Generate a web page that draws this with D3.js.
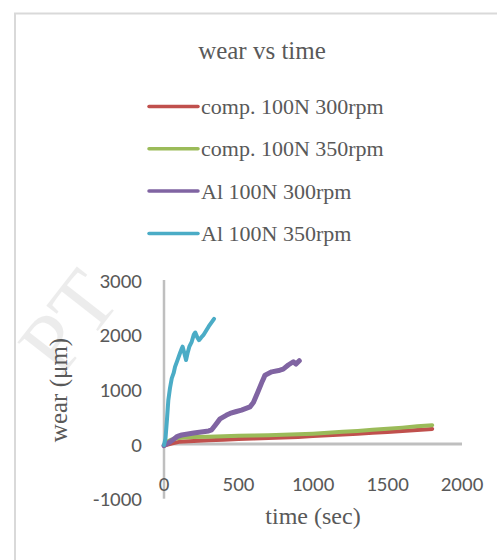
<html>
<head>
	<title>wear vs time</title>
	<meta charset="utf-8">
	<script src="https://d3js.org/d3.v7.min.js"></script>
	<style>
		body { margin: 0; background: #fff; }
	</style>
</head>
<body>
	<svg id="chart" width="497" height="560"></svg>

	<script type="text/javascript">
		// series names + colours (legend order)
		var seriesNames = ["comp. 100N 300rpm", "comp. 100N 350rpm", "Al 100N 300rpm", "Al 100N 350rpm"]
		var seriesColors = ["#c0504d", "#9bbb59", "#8064a2", "#4bacc6"]

		// [time (sec), wear (um)]
		var comp300 = [[0,-30],[50,10],[100,40],[200,55],[300,70],[400,80],[500,90],[600,100],[700,110],[800,120],
		               [900,130],[1000,145],[1100,160],[1200,175],[1300,190],[1400,205],[1500,220],[1600,240],[1700,255],[1800,275]]
		var comp350 = [[0,-20],[20,40],[50,80],[80,100],[130,120],[200,130],[300,135],[400,140],[500,150],[600,155],
		               [700,160],[800,170],[900,178],[1000,190],[1100,205],[1200,225],[1300,240],[1400,260],[1500,280],
		               [1600,300],[1700,325],[1800,345]]
		var al300 = [[0,-30],[30,20],[60,80],[90,140],[119,165],[150,180],[200,200],[250,220],[300,240],[320,260],
		             [345,350],[376,460],[420,530],[443,560],[480,590],[520,620],[577,680],[600,760],[630,950],[660,1150],
		             [678,1260],[723,1320],[778,1350],[800,1370],[834,1445],[868,1505],[886,1463],[908,1524]]
		var al350 = [[0,-20],[10,100],[20,450],[29,800],[40,1020],[52,1200],[65,1300],[74,1410],[90,1530],[107,1660],
		             [118,1740],[125,1780],[135,1680],[148,1536],[158,1660],[170,1780],[186,1870],[200,2000],[210,2040],
		             [222,1960],[235,1900],[250,1950],[264,1990],[300,2150],[336,2290]]
		var allSeries = [comp300, comp350, al300, al350]

		var xTicks = [0, 500, 1000, 1500, 2000]
		var yTicks = [-1000, 0, 1000, 2000, 3000]

		var svg = d3.select("#chart")

		// faint watermark left over from the source page
		svg.append("text")
			.attr("transform", "translate(122,300) rotate(-52)")
			.attr("text-anchor", "end")
			.attr("font-family", "Liberation Serif, serif")
			.attr("font-size", 86)
			.attr("fill", "#000")
			.attr("opacity", 0.07)
			.text("PT")

		// chart area border
		svg.append("rect")
			.attr("x", 15).attr("y", 13.5)
			.attr("width", 520).attr("height", 580)
			.attr("fill", "none")
			.attr("stroke", "#d9d9d9")
			.attr("stroke-width", 2)

		var x = d3.scaleLinear().domain([0, 2000]).range([164, 462])
		var y = d3.scaleLinear().domain([-1000, 3000]).range([498.7, 280])

		// title
		svg.append("text")
			.attr("x", 262).attr("y", 59)
			.attr("text-anchor", "middle")
			.attr("font-family", "Liberation Serif, serif")
			.attr("font-size", 25)
			.attr("fill", "#595959")
			.text("wear vs time")

		// legend
		var legend = svg.selectAll(".legend")
			.data(seriesNames)
			.enter()
			.append("g")
			.attr("transform", (d, i) => "translate(0," + (106.5 + i * 42.3) + ")")
		legend.append("line")
			.attr("x1", 149).attr("x2", 198)
			.attr("stroke", (d, i) => seriesColors[i])
			.attr("stroke-width", 3.5)
			.attr("stroke-linecap", "round")
		legend.append("text")
			.attr("x", 201).attr("y", 7.5)
			.attr("font-family", "Liberation Serif, serif")
			.attr("font-size", 22)
			.attr("fill", "#595959")
			.text(d => d)

		// axis lines (Excel style, no ticks)
		svg.append("line")
			.attr("x1", x(0)).attr("x2", x(0))
			.attr("y1", y(3000)).attr("y2", y(-1000))
			.attr("stroke", "#bfbfbf").attr("stroke-width", 2.5)
		svg.append("line")
			.attr("x1", x(0)).attr("x2", x(2000))
			.attr("y1", y(0)).attr("y2", y(0))
			.attr("stroke", "#bfbfbf").attr("stroke-width", 3)

		// tick labels
		svg.selectAll(".ylab")
			.data(yTicks)
			.enter()
			.append("text")
			.attr("x", 142).attr("y", d => y(d) + 7.5)
			.attr("text-anchor", "end")
			.attr("font-family", "Carlito, Lato, sans-serif")
			.attr("font-size", 21)
			.attr("fill", "#595959")
			.text(d => d)
		svg.selectAll(".xlab")
			.data(xTicks)
			.enter()
			.append("text")
			.attr("x", d => x(d)).attr("y", 490.5)
			.attr("text-anchor", "middle")
			.attr("font-family", "Carlito, Lato, sans-serif")
			.attr("font-size", 21)
			.attr("fill", "#595959")
			.text(d => d)

		// axis titles
		svg.append("text")
			.attr("x", 313).attr("y", 524)
			.attr("text-anchor", "middle")
			.attr("font-family", "Liberation Serif, serif")
			.attr("font-size", 24)
			.attr("fill", "#595959")
			.text("time (sec)")
		svg.append("text")
			.attr("transform", "translate(67,390) rotate(-90)")
			.attr("text-anchor", "middle")
			.attr("font-family", "Liberation Serif, serif")
			.attr("font-size", 25)
			.attr("fill", "#595959")
			.text("wear (\u03bcm)")

		// data lines
		var line = d3.line()
			.x(d => x(d[0]))
			.y(d => y(d[1]))
		svg.selectAll(".series")
			.data(allSeries)
			.enter()
			.append("path")
			.attr("d", line)
			.attr("fill", "none")
			.attr("stroke", (d, i) => seriesColors[i])
			.attr("stroke-width", (d, i) => i == 2 ? 5 : 4)
			.attr("stroke-linejoin", "round")
			.attr("stroke-linecap", "round")
	</script>
</body>
</html>
